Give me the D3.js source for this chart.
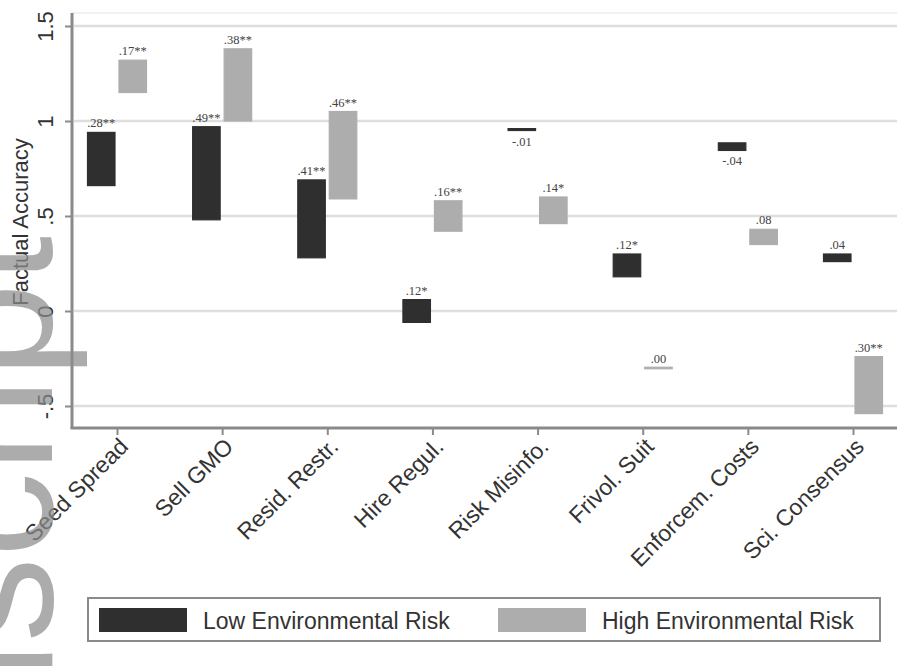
<!DOCTYPE html>
<html>
<head>
<meta charset="utf-8">
<script src="https://cdn.jsdelivr.net/npm/d3@7/dist/d3.min.js"></script>
<style>
  html, body { margin: 0; padding: 0; background: #fff; }
  svg { display: block; }
</style>
</head>
<body>
<svg id="chart" width="899" height="666"></svg>
<script>
// Outcome items on the x axis
const categories = ["Seed Spread", "Sell GMO", "Resid. Restr.", "Hire Regul.",
                    "Risk Misinfo.", "Frivol. Suit", "Enforcem. Costs", "Sci. Consensus"];

// Low environmental risk: start of each range bar and the change it spans
const lowBase  = [0.66, 0.48, 0.28, -0.06, 0.96, 0.18, 0.885, 0.26];
const lowDiff  = [0.28, 0.49, 0.41, 0.12, -0.01, 0.12, -0.04, 0.04];
const lowStars = ["**", "**", "**", "*", "", "*", "", ""];

// High environmental risk
const highBase  = [1.15, 1.00, 0.59, 0.42, 0.46, -0.30, 0.35, -0.54];
const highDiff  = [0.17, 0.38, 0.46, 0.16, 0.14, 0.00, 0.08, 0.30];
const highStars = ["**", "**", "**", "**", "*", "", "", "**"];

// Y axis ticks
const yTicks = [-0.5, 0, 0.5, 1, 1.5];
const yTickLabels = ["-.5", "0", ".5", "1", "1.5"];

const seriesNames = ["Low Environmental Risk", "High Environmental Risk"];
const seriesColors = ["#2f2f2f", "#adadad"];

const svg = d3.select("#chart");
const sans = "'Liberation Sans', Arial, sans-serif";
const serif = "'Liberation Serif', 'Times New Roman', serif";

const plot = { left: 72, right: 897, top: 13, bottom: 428 };

const y = d3.scaleLinear().domain([-0.5, 1.5]).range([406, 26]);
const x = d3.scalePoint().domain(categories).range([117, 853]);
const xSub = d3.scaleBand().domain(["low", "high"]).range([-29.5, 29.5]).paddingInner(0.127);

// Stata-style number label: no leading zero
const fmt = v => {
  const s = (Math.round(v * 100) / 100).toFixed(2);
  return s.replace(/^(-?)0\./, "$1.");
};

// plot region top edge
svg.append("line")
  .attr("x1", plot.left).attr("x2", plot.right)
  .attr("y1", plot.top).attr("y2", plot.top)
  .attr("stroke", "#ececec").attr("stroke-width", 1.5);

// gridlines
svg.append("g").selectAll("line").data(yTicks).join("line")
  .attr("x1", plot.left + 2).attr("x2", plot.right)
  .attr("y1", d => y(d)).attr("y2", d => y(d))
  .attr("stroke", "#dedede").attr("stroke-width", 2.5);

// y axis
const yAxis = svg.append("g")
  .attr("transform", `translate(${plot.left},0)`)
  .call(d3.axisLeft(y).tickValues(yTicks).tickFormat((d, i) => yTickLabels[i]).tickSize(7).tickSizeOuter(0));
yAxis.select(".domain").remove();
yAxis.append("line")
  .attr("x1", 0).attr("x2", 0).attr("y1", plot.top).attr("y2", plot.bottom)
  .attr("stroke", "#8a8a8a").attr("stroke-width", 3);
yAxis.selectAll(".tick line").attr("stroke", "#8a8a8a").attr("stroke-width", 2);
yAxis.selectAll(".tick text")
  .attr("transform", "rotate(-90)")
  .attr("x", 0).attr("y", -19).attr("dy", 0)
  .attr("text-anchor", "middle")
  .attr("font-family", sans).attr("font-size", 22).attr("fill", "#333");

// y axis title
svg.append("text")
  .attr("transform", `translate(28,222) rotate(-90)`)
  .attr("text-anchor", "middle")
  .attr("font-family", sans).attr("font-size", 22).attr("fill", "#333")
  .text("Factual Accuracy");

// x axis
const xAxis = svg.append("g")
  .attr("transform", `translate(0,${plot.bottom})`)
  .call(d3.axisBottom(x).tickSize(7).tickSizeOuter(0));
xAxis.select(".domain").remove();
xAxis.append("line")
  .attr("x1", plot.left - 1.5).attr("x2", plot.right).attr("y1", 0).attr("y2", 0)
  .attr("stroke", "#8a8a8a").attr("stroke-width", 3);
xAxis.selectAll(".tick line").attr("stroke", "#8a8a8a").attr("stroke-width", 2);
xAxis.selectAll(".tick text")
  .attr("x", 0).attr("y", 0).attr("dy", 0)
  .attr("transform", "translate(12,20) rotate(-45)")
  .attr("text-anchor", "end")
  .attr("font-family", sans).attr("font-size", 23).attr("fill", "#333");

// range bars with difference labels
const series = [
  { key: "low", base: lowBase, diff: lowDiff, stars: lowStars, color: seriesColors[0] },
  { key: "high", base: highBase, diff: highDiff, stars: highStars, color: seriesColors[1] }
];

series.forEach(s => {
  const rows = categories.map((c, i) => {
    const a = s.base[i], b = s.base[i] + s.diff[i];
    return { c, lo: Math.min(a, b), hi: Math.max(a, b), diff: s.diff[i], stars: s.stars[i] };
  });
  const g = svg.append("g");
  // a zero-length range still shows as a thin bar
  g.selectAll("rect").data(rows).join("rect")
    .attr("x", d => x(d.c) + xSub(s.key))
    .attr("width", xSub.bandwidth())
    .attr("y", d => y(d.hi) - (y(d.lo) - y(d.hi) < 1 ? 0.75 : 0))
    .attr("height", d => Math.max(1.5, y(d.lo) - y(d.hi)))
    .attr("fill", s.color)
    .attr("stroke", s.color).attr("stroke-width", 1.2);
  g.selectAll("text").data(rows).join("text")
    .attr("x", d => x(d.c) + xSub(s.key) + xSub.bandwidth() / 2)
    .attr("y", d => d.diff < 0 ? y(d.lo) + 15 : y(d.hi) - 5)
    .attr("text-anchor", "middle")
    .attr("font-family", serif).attr("font-size", 12.5).attr("fill", "#444")
    .text(d => fmt(d.diff) + d.stars);
});

// legend
const legend = svg.append("g");
legend.append("rect")
  .attr("x", 88).attr("y", 598).attr("width", 792).attr("height", 43)
  .attr("fill", "#fff").attr("stroke", "#8a8a8a").attr("stroke-width", 2);
const legendX = [99, 498];
seriesNames.forEach((name, i) => {
  legend.append("rect")
    .attr("x", legendX[i]).attr("y", 608).attr("width", 88).attr("height", 24)
    .attr("fill", seriesColors[i]);
  legend.append("text")
    .attr("x", legendX[i] + 104).attr("y", 629)
    .attr("font-family", sans).attr("font-size", 23).attr("fill", "#333")
    .text(name);
});

// repository watermark along the left edge
svg.append("text")
  .attr("transform", "translate(52,236) rotate(-90)")
  .attr("text-anchor", "end")
  .attr("font-family", sans).attr("font-size", 170)
  .attr("fill", "#8c8c8c").attr("fill-opacity", 0.72)
  .text("Author Manuscript");
</script>
</body>
</html>
